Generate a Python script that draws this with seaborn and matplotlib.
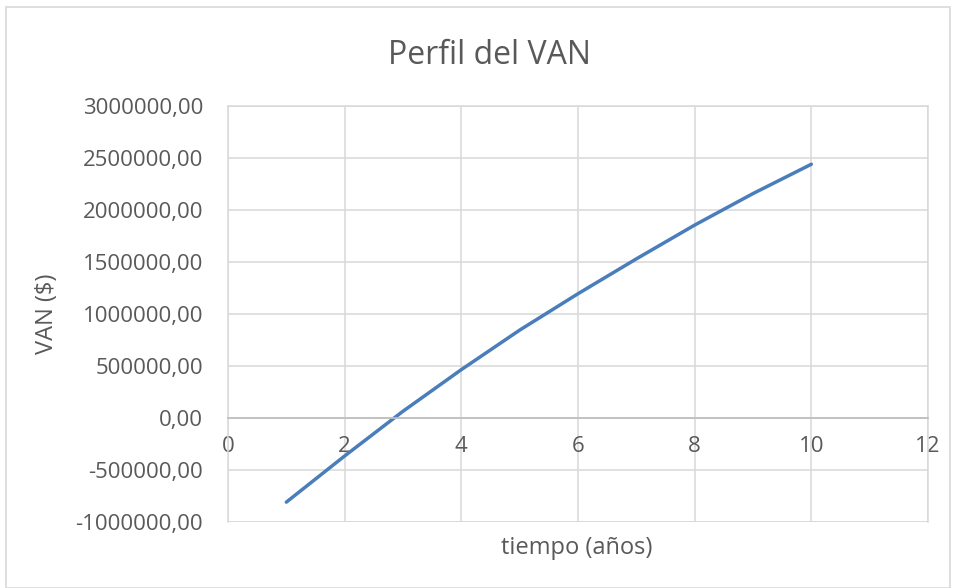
import matplotlib
matplotlib.use("Agg")
import matplotlib.pyplot as plt
import seaborn as sns
import pandas as pd
from matplotlib.patches import Rectangle
from matplotlib.ticker import FuncFormatter

# Datos del perfil del VAN
anios = [1, 2, 3, 4, 5, 6, 7, 8, 9, 10]
van = [-809000, -365000, 65000, 465000, 845000, 1195000, 1530000, 1855000, 2158000, 2440000]

sns.set_style("white")
plt.rcParams['font.family'] = ['Open Sans', 'DejaVu Sans']

gris_texto = '#595959'
gris_grid = '#D9D9D9'

df = pd.DataFrame({'tiempo': anios, 'VAN': van})

fig = plt.figure(figsize=(9.56, 5.88), dpi=100)
ax = fig.add_axes([228/956, 1-522/588, 700/956, 416/588])

sns.lineplot(data=df, x='tiempo', y='VAN', ax=ax, color='#4A7EBB', linewidth=2.5)

ax.set_xlim(0, 12)
ax.set_ylim(-1000000, 3000000)
ax.set_xticks(range(0, 13, 2))
ax.set_yticks(range(-1000000, 3000001, 500000))
ax.yaxis.set_major_formatter(FuncFormatter(lambda v, p: f"{v:.2f}".replace('.', ',')))

ax.grid(True, color=gris_grid, linewidth=1.1)
ax.set_axisbelow(True)
for s in ['top', 'right', 'left']:
    ax.spines[s].set_color(gris_grid)
    ax.spines[s].set_linewidth(1.1)
ax.spines['bottom'].set_position(('data', 0))
ax.spines['bottom'].set_color('#BFBFBF')
ax.spines['bottom'].set_linewidth(1.3)
# borde inferior del area de trazado
ax.axhline(-1000000, color=gris_grid, linewidth=1.1, zorder=0)

ax.tick_params(axis='both', length=0, labelsize=16, labelcolor=gris_texto)
ax.tick_params(axis='x', pad=13)
ax.tick_params(axis='y', pad=18)

ax.set_xlabel('')
ax.set_ylabel('')
fig.text(577/956, 1-548/588, 'tiempo (años)', ha='center', va='center',
         fontsize=17, color=gris_texto)
fig.text(47/956, 1-314/588, 'VAN ($)', ha='center', va='center', rotation=90,
         fontsize=17, color=gris_texto)
fig.text(489/956, 1-55/588, 'Perfil del VAN', ha='center', va='center',
         fontsize=23, color=gris_texto)

fig.patches.append(Rectangle((6/956, 0), 944/956, 1-7/588, transform=fig.transFigure,
                             fill=False, edgecolor=gris_grid, linewidth=1.2))

fig.savefig('out.png', dpi=100)
